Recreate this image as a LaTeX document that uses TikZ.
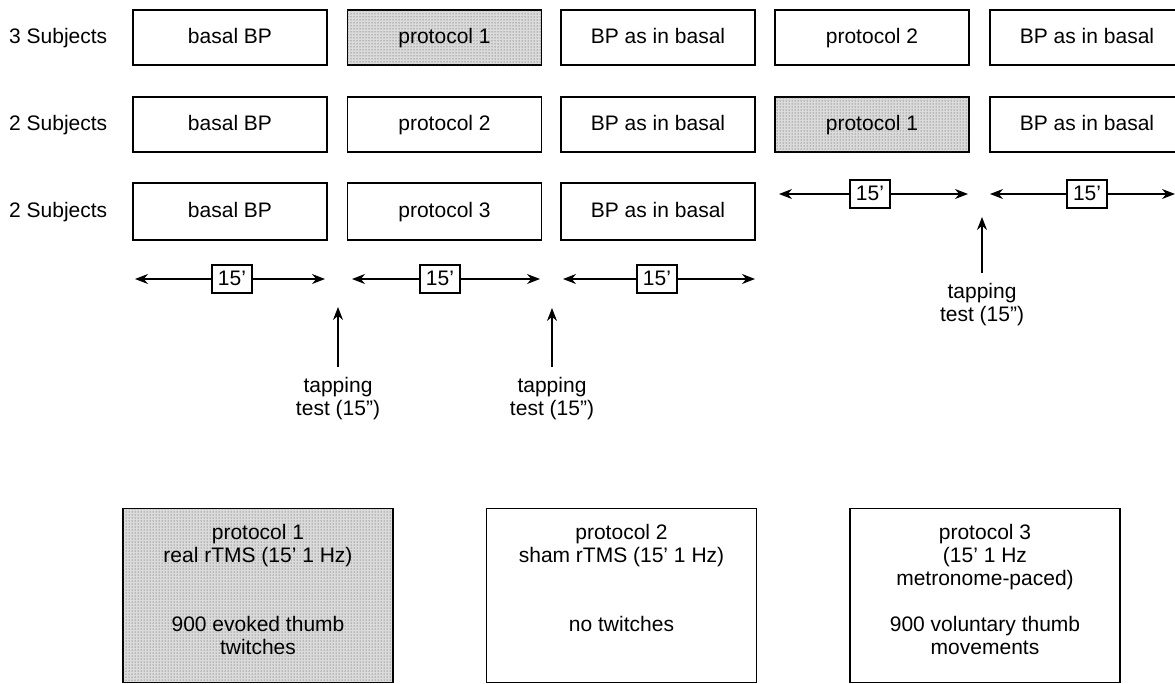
\documentclass[tikz,border=0pt]{standalone}
\usepackage{fontspec}
\setmainfont{Liberation Sans}
\usetikzlibrary{arrows.meta,patterns}
\begin{document}
\begin{tikzpicture}[x=1pt,y=-1pt,
  every node/.style={font=\fontsize{21}{23}\selectfont},
  stage/.style={draw, line width=1.3pt, minimum width=194pt, minimum height=55pt, inner sep=0pt, text height=15pt, text depth=4pt},
  shaded/.style={fill=black!14, postaction={pattern=dots, pattern color=black!75}},
  dur/.style={draw, line width=1.2pt, minimum width=40pt, minimum height=28pt, inner sep=0pt, text height=15pt, text depth=2pt},
  arr/.style={line width=1.2pt, -{Stealth[length=13pt,width=10pt]}},
  rowlab/.style={anchor=west, inner sep=0pt},
  tap/.style={align=center, inner xsep=0pt, inner ysep=10pt, anchor=north},
  protbox/.style={draw, line width=1.3pt, minimum width=270pt, minimum height=174pt, anchor=north, inner sep=0pt},
  prottext/.style={align=center, inner sep=0pt, anchor=north}
]
\useasboundingbox (0,0) rectangle (1175,683);
\clip (0,0) rectangle (1175,683);

% row labels
\node[rowlab] (l1) at (9,38.5) {3 Subjects};
\node[rowlab] (l2) at (9,125.5) {2 Subjects};
\node[rowlab] (l3) at (9,212.5) {2 Subjects};

% row 1
\node[stage] (a1) at (230,37.5) {basal BP};
\node[stage,shaded] (a2) at (444.5,37.5) {protocol 1};
\node[stage] (a3) at (658,37.5) {BP as in basal};
\node[stage] (a4) at (872,37.5) {protocol 2};
\node[stage] (a5) at (1087,37.5) {BP as in basal};

% row 2
\node[stage] (b1) at (230,124.5) {basal BP};
\node[stage] (b2) at (444.5,124.5) {protocol 2};
\node[stage] (b3) at (658,124.5) {BP as in basal};
\node[stage,shaded] (b4) at (872,124.5) {protocol 1};
\node[stage] (b5) at (1087,124.5) {BP as in basal};

% row 3
\node[stage,minimum height=57pt] (c1) at (230,211.5) {basal BP};
\node[stage,minimum height=57pt] (c2) at (444.5,211.5) {protocol 3};
\node[stage,minimum height=57pt] (c3) at (658,211.5) {BP as in basal};

% durations (bottom row)
\node[dur] (d1) at (232,279) {15’};
\node[dur] (d2) at (440,279) {15’};
\node[dur] (d3) at (657,279) {15’};
\coordinate (d1l) at (135,279); \coordinate (d1r) at (325,279);
\coordinate (d2l) at (352,279); \coordinate (d2r) at (540,279);
\coordinate (d3l) at (563,279); \coordinate (d3r) at (755,279);
\draw[arr] (d1) -- (d1l); \draw[arr] (d1) -- (d1r);
\draw[arr] (d2) -- (d2l); \draw[arr] (d2) -- (d2r);
\draw[arr] (d3) -- (d3l); \draw[arr] (d3) -- (d3r);

% durations (right row)
\node[dur] (d4) at (870,194) {15’};
\node[dur] (d5) at (1087,194) {15’};
\coordinate (d4l) at (779,194); \coordinate (d4r) at (968,194);
\coordinate (d5l) at (990,194); \coordinate (d5r) at (1175,194);
\draw[arr] (d4) -- (d4l); \draw[arr] (d4) -- (d4r);
\draw[arr] (d5) -- (d5l); \draw[arr] (d5) -- (d5r);

% tapping tests
\node[tap] (t1) at (338,367) {tapping\\test (15”)};
\node[tap] (t2) at (552,367) {tapping\\test (15”)};
\node[tap] (t3) at (982,273) {tapping\\test (15”)};
\coordinate (t1tip) at (338,307);
\coordinate (t2tip) at (552,308);
\coordinate (t3tip) at (982,217);
\draw[arr] (t1.north) -- (t1tip);
\draw[arr] (t2.north) -- (t2tip);
\draw[arr] (t3.north) -- (t3tip);

% protocol descriptions
\node[protbox,shaded] (p1) at (258,508) {};
\node[protbox] (p2) at (621.5,508) {};
\node[protbox] (p3) at (985,508) {};
\node[prottext] (p1t) at ([yshift=-16pt]p1.north) {protocol 1\\real rTMS (15’ 1 Hz)\\[46pt]900 evoked thumb\\twitches};
\node[prottext] (p2t) at ([yshift=-16pt]p2.north) {protocol 2\\sham rTMS (15’ 1 Hz)\\[46pt]no twitches};
\node[prottext] (p3t) at ([yshift=-16pt]p3.north) {protocol 3\\(15’ 1 Hz\\metronome-paced)\\[23pt]900 voluntary thumb\\movements};
\end{tikzpicture}
\end{document}
